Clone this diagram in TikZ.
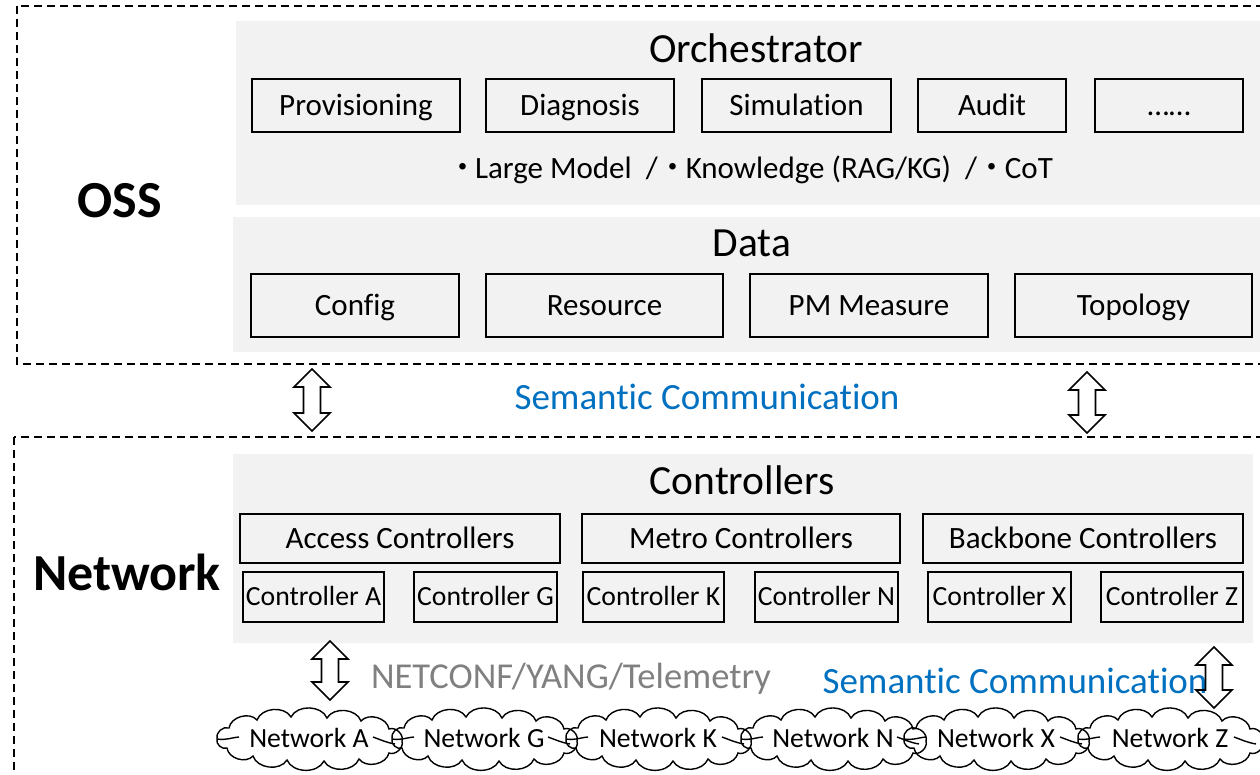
\documentclass[tikz,border=0pt]{standalone}
\usepackage{fontspec}
\setmainfont{Carlito}[Ligatures=NoCommon]
\newfontfamily\cjkfont{Noto Sans CJK SC}
\usetikzlibrary{calc}
\definecolor{panelgray}{HTML}{F2F2F2}
\definecolor{semblue}{HTML}{0070C0}
\definecolor{protogray}{HTML}{808080}
\newcommand{\mdot}{{\cjkfont ・}\kern-3pt}
% vertical two-headed block arrow between two named coordinates (top, bottom)
\newcommand{\vdblarrow}[2]{%
  \draw[arrowline] (#1) -- ++(18,18) -- ++(-9.5,0) -- ($(#2)+(8.5,-18)$) -- ++(9.5,0)
    -- (#2) -- ++(-18,-18) -- ++(9.5,0) -- ($(#1)+(-8.5,18)$) -- ++(-9.5,0) -- cycle;}
% puffy outline drawn around a named node
\newcommand{\cloudaround}[1]{%
  \begin{scope}[shift={(#1.center)}]
    \draw[cloudline] (-92,0) to[puff] (-80,-11) to[puff] (-52,-19) to[puff] (-18,-22)
      to[puff] (18,-21) to[puff] (52,-18) to[puff] (80,-10) to[puff] (93,2)
      to[puff] (80,14) to[puff] (50,20) to[puff] (15,22) to[puff] (-22,21)
      to[puff] (-56,17) to[puff] (-82,9) to[puff] (-92,0);
    \draw[cloudline] (-92,0) to[out=-10,in=185] (-70,-2);
    \draw[cloudline] (64,-2) to[out=-20,in=170] (86,5);
  \end{scope}}
\begin{document}
\begin{tikzpicture}[x=1pt,y=-1pt,
  zone/.style={draw=black, line width=1.6pt, dash pattern=on 8pt off 5pt},
  panel/.style={fill=panelgray, draw=none, inner sep=0pt, anchor=north west},
  box/.style={draw=black, line width=1.6pt, inner sep=0pt,
              font=\fontsize{31}{36}\selectfont, text height=20pt, text depth=0pt},
  ctrlbox/.style={box, font=\fontsize{27.7}{32}\selectfont, text height=17.8pt},
  titletxt/.style={anchor=base, inner sep=0pt, font=\fontsize{41.5}{48}\selectfont},
  bodytxt/.style={anchor=base, inner sep=0pt, font=\fontsize{31}{36}\selectfont},
  zonetxt/.style={anchor=base, inner sep=0pt, font=\fontsize{52}{60}\selectfont\bfseries},
  semtxt/.style={anchor=base, inner sep=0pt, text=semblue, font=\fontsize{37}{43}\selectfont},
  prototxt/.style={anchor=base, inner sep=0pt, text=protogray, font=\fontsize{36.5}{42}\selectfont},
  arrowline/.style={draw=black, line width=1.6pt, line join=miter},
  cloudline/.style={draw=black, line width=1.4pt},
  puff/.style={bend left=65},
  nettxt/.style={inner sep=0pt, font=\fontsize{27.7}{32}\selectfont, text height=17.8pt, text depth=0pt}
]
\useasboundingbox (0,0) rectangle (1260,774);
\clip (0,0) rectangle (1260,774);

% dashed zones
\draw[zone] (17,6) rectangle (1290,364);
\draw[zone] (14,437) rectangle (1290,800);

% grey panels
\node[panel, minimum width=1040pt, minimum height=184pt] (orchpanel) at (236,21) {};
\node[panel, minimum width=1040pt, minimum height=135pt] (datapanel) at (233,217) {};
\node[panel, minimum width=1020pt, minimum height=189pt] (ctrlpanel) at (233,454) {};

% zone labels
\node[zonetxt] (osslabel) at (120,217) {OSS};
\node[zonetxt] (netlabel) at (127,590) {Network};

% orchestrator
\node[titletxt] (orchtitle) at (756,62) {Orchestrator};
\node[box, minimum width=208pt, minimum height=53pt] (prov) at (356,105.5) {Provisioning};
\node[box, minimum width=188pt, minimum height=53pt] (diag) at (580,105.5) {Diagnosis};
\node[box, minimum width=189pt, minimum height=53pt] (simu) at (796.5,105.5) {Simulation};
\node[box, minimum width=148pt, minimum height=53pt] (audit) at (992,105.5) {Audit};
\node[box, minimum width=148pt, minimum height=53pt] (more) at (1169,105.5) {……};
\node[bodytxt] (methods) at (750,178)
  {\mdot Large Model\ \ /\mdot Knowledge (RAG/KG)\ \ /\mdot CoT};

% data
\node[titletxt] (datatitle) at (752,256) {Data};
\node[box, minimum width=208pt, minimum height=63pt] (config) at (355,305.5) {Config};
\node[box, minimum width=237pt, minimum height=63pt] (resource) at (604.5,305.5) {Resource};
\node[box, minimum width=238pt, minimum height=63pt] (pm) at (869,305.5) {PM Measure};
\node[box, minimum width=237pt, minimum height=63pt] (topo) at (1133.5,305.5) {Topology};

% OSS <-> controllers
\coordinate (aLtop) at (312,369);  \coordinate (aLbot) at (312,431);
\coordinate (aRtop) at (1087,372); \coordinate (aRbot) at (1087,433);
\vdblarrow{aLtop}{aLbot}
\vdblarrow{aRtop}{aRbot}
\node[semtxt] (semtop) at (707,409) {Semantic Communication};

% controllers
\node[titletxt] (ctrltitle) at (742,494) {Controllers};
\node[box, minimum width=320pt, minimum height=49pt] (access) at (400,538.5) {Access Controllers};
\node[box, minimum width=318pt, minimum height=49pt] (metro) at (741,538.5) {Metro Controllers};
\node[box, minimum width=320pt, minimum height=49pt] (backbone) at (1083,538.5) {Backbone Controllers};
\node[ctrlbox, minimum width=141pt, minimum height=50pt] (ctlA) at (313.5,597) {Controller A};
\node[ctrlbox, minimum width=143pt, minimum height=50pt] (ctlG) at (485.5,597) {Controller G};
\node[ctrlbox, minimum width=141pt, minimum height=50pt] (ctlK) at (653.5,597) {Controller K};
\node[ctrlbox, minimum width=143pt, minimum height=50pt] (ctlN) at (826.5,597) {Controller N};
\node[ctrlbox, minimum width=143pt, minimum height=50pt] (ctlX) at (999.5,597) {Controller X};
\node[ctrlbox, minimum width=142pt, minimum height=50pt] (ctlZ) at (1172,597) {Controller Z};

% controllers <-> networks
\node[prototxt] (proto) at (571,688) {NETCONF/YANG/Telemetry};
\node[semtxt] (sembottom) at (1015,693) {Semantic Communication};
\coordinate (nLtop) at (330,641);  \coordinate (nLbot) at (330,700);
\coordinate (nRtop) at (1214,647); \coordinate (nRbot) at (1214,708);
\vdblarrow{nLtop}{nLbot}
\vdblarrow{nRtop}{nRbot}

% networks
\foreach \nm/\cx/\lbl in {cA/309/Network A, cG/484/Network G, cK/658/Network K,
                          cN/833/Network N, cX/996/Network X, cZ/1170/Network Z}{
  \node[nettxt] (\nm) at (\cx,739) {\lbl};
  \cloudaround{\nm}
}
\end{tikzpicture}
\end{document}
